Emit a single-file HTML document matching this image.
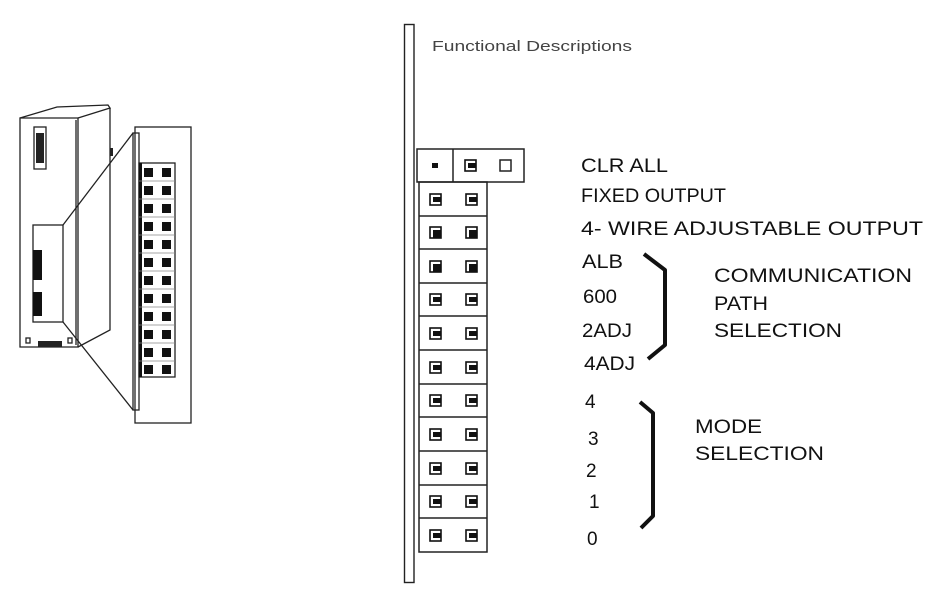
<!DOCTYPE html>
<html><head><meta charset="utf-8"><style>
html,body{margin:0;padding:0;background:#fff;width:936px;height:601px;overflow:hidden}
text{font-family:"Liberation Sans",sans-serif;fill:#111}
</style></head><body>
<svg width="936" height="601" viewBox="0 0 936 601" xmlns="http://www.w3.org/2000/svg">
<g fill="none" stroke="#222" stroke-width="1.3">
<polygon points="20,118 20,347 78,347 78,118"/>
<polyline points="20,118 57,107 108,105 110,108 78,118"/>
<polyline points="78,347 110,330 110,108"/>
<line x1="76" y1="120" x2="76" y2="345"/>
<rect x="34" y="127" width="12" height="42"/>
<rect x="33" y="225" width="30" height="97"/>
<line x1="63" y1="225" x2="133" y2="133"/>
<line x1="63" y1="322" x2="133" y2="410"/>
<rect x="26" y="338" width="4" height="5"/>
<rect x="68" y="338" width="4" height="5"/>
<rect x="135" y="127" width="56" height="296"/>
<rect x="133" y="133" width="6" height="277"/>
<rect x="139" y="163" width="36" height="214"/>
</g>
<rect x="36" y="133" width="8" height="30" fill="#222"/>
<rect x="33" y="250" width="9" height="30" fill="#111"/>
<rect x="33" y="292" width="9" height="24" fill="#111"/>
<rect x="38" y="341" width="24" height="6" fill="#222"/>
<rect x="110" y="148" width="3" height="8" fill="#222"/>
<rect x="139" y="163" width="3" height="214" fill="#111"/>
<g fill="#111">
<rect x="144" y="168" width="9" height="9"/><rect x="162" y="168" width="9" height="9"/>
<rect x="144" y="186" width="9" height="9"/><rect x="162" y="186" width="9" height="9"/>
<rect x="144" y="204" width="9" height="9"/><rect x="162" y="204" width="9" height="9"/>
<rect x="144" y="222" width="9" height="9"/><rect x="162" y="222" width="9" height="9"/>
<rect x="144" y="240" width="9" height="9"/><rect x="162" y="240" width="9" height="9"/>
<rect x="144" y="258" width="9" height="9"/><rect x="162" y="258" width="9" height="9"/>
<rect x="144" y="276" width="9" height="9"/><rect x="162" y="276" width="9" height="9"/>
<rect x="144" y="294" width="9" height="9"/><rect x="162" y="294" width="9" height="9"/>
<rect x="144" y="312" width="9" height="9"/><rect x="162" y="312" width="9" height="9"/>
<rect x="144" y="330" width="9" height="9"/><rect x="162" y="330" width="9" height="9"/>
<rect x="144" y="348" width="9" height="9"/><rect x="162" y="348" width="9" height="9"/>
<rect x="144" y="365" width="9" height="9"/><rect x="162" y="365" width="9" height="9"/>
</g>
<g stroke="#888" stroke-width="0.8">
<line x1="139" y1="181" x2="175" y2="181"/><line x1="139" y1="199" x2="175" y2="199"/>
<line x1="139" y1="217" x2="175" y2="217"/><line x1="139" y1="235" x2="175" y2="235"/>
<line x1="139" y1="253" x2="175" y2="253"/><line x1="139" y1="271" x2="175" y2="271"/>
<line x1="139" y1="289" x2="175" y2="289"/><line x1="139" y1="307" x2="175" y2="307"/>
<line x1="139" y1="325" x2="175" y2="325"/><line x1="139" y1="343" x2="175" y2="343"/>
<line x1="139" y1="361" x2="175" y2="361"/>
</g>

<rect x="404.5" y="24.5" width="9.5" height="558" fill="none" stroke="#222" stroke-width="1.4"/>
<text x="432" y="51" font-size="15" style="fill:#444" textLength="200" lengthAdjust="spacingAndGlyphs">Functional Descriptions</text>
<g fill="none" stroke="#222" stroke-width="1.5">
<rect x="417" y="149" width="107" height="33"/>
<line x1="453" y1="149" x2="453" y2="182"/>
<rect x="419" y="182" width="68" height="370"/>
</g>
<g stroke="#222" stroke-width="1.5">
<line x1="419" y1="216" x2="487" y2="216"/><line x1="419" y1="249" x2="487" y2="249"/>
<line x1="419" y1="283" x2="487" y2="283"/><line x1="419" y1="316" x2="487" y2="316"/>
<line x1="419" y1="350" x2="487" y2="350"/><line x1="419" y1="384" x2="487" y2="384"/>
<line x1="419" y1="417" x2="487" y2="417"/><line x1="419" y1="451" x2="487" y2="451"/>
<line x1="419" y1="485" x2="487" y2="485"/><line x1="419" y1="518" x2="487" y2="518"/>
</g>
<rect x="432" y="163" width="6" height="5" fill="#111"/>
<rect x="500" y="160" width="11" height="11" fill="none" stroke="#222" stroke-width="1.5"/>
<defs>
<g id="p"><rect x="0" y="0" width="11" height="11" fill="none" stroke="#111" stroke-width="1.6"/><rect x="3" y="3" width="8" height="5" fill="#111"/></g>
<g id="q"><rect x="0" y="0" width="11" height="11" fill="none" stroke="#111" stroke-width="1.6"/><rect x="3" y="3" width="8" height="8" fill="#111"/></g>
</defs>
<use href="#p" x="465" y="160"/>
<use href="#p" x="430" y="194"/><use href="#p" x="466" y="194"/>
<use href="#q" x="430" y="227"/><use href="#q" x="466" y="227"/>
<use href="#q" x="430" y="261"/><use href="#q" x="466" y="261"/>
<use href="#p" x="430" y="294"/><use href="#p" x="466" y="294"/>
<use href="#p" x="430" y="328"/><use href="#p" x="466" y="328"/>
<use href="#p" x="430" y="362"/><use href="#p" x="466" y="362"/>
<use href="#p" x="430" y="395"/><use href="#p" x="466" y="395"/>
<use href="#p" x="430" y="429"/><use href="#p" x="466" y="429"/>
<use href="#p" x="430" y="463"/><use href="#p" x="466" y="463"/>
<use href="#p" x="430" y="496"/><use href="#p" x="466" y="496"/>
<use href="#p" x="430" y="530"/><use href="#p" x="466" y="530"/>

<g font-size="19">
<text x="581" y="172" textLength="87" lengthAdjust="spacingAndGlyphs">CLR ALL</text>
<text x="581" y="202" textLength="145" lengthAdjust="spacingAndGlyphs">FIXED OUTPUT</text>
<text x="581" y="235" textLength="342" lengthAdjust="spacingAndGlyphs">4- WIRE ADJUSTABLE OUTPUT</text>
<text x="582" y="268" textLength="41" lengthAdjust="spacingAndGlyphs">ALB</text>
<text x="583" y="303" textLength="34" lengthAdjust="spacingAndGlyphs">600</text>
<text x="582" y="337" textLength="50" lengthAdjust="spacingAndGlyphs">2ADJ</text>
<text x="584" y="370" textLength="51" lengthAdjust="spacingAndGlyphs">4ADJ</text>
<text x="585" y="408">4</text>
<text x="588" y="445">3</text>
<text x="586" y="477">2</text>
<text x="589" y="508">1</text>
<text x="587" y="545">0</text>
<text x="714" y="282" textLength="198" lengthAdjust="spacingAndGlyphs">COMMUNICATION</text>
<text x="714" y="310" textLength="54" lengthAdjust="spacingAndGlyphs">PATH</text>
<text x="714" y="337" textLength="128" lengthAdjust="spacingAndGlyphs">SELECTION</text>
<text x="695" y="433" textLength="67" lengthAdjust="spacingAndGlyphs">MODE</text>
<text x="695" y="460" textLength="129" lengthAdjust="spacingAndGlyphs">SELECTION</text>
</g>
<g fill="none" stroke="#111" stroke-width="4" stroke-linejoin="round">
<polyline points="644,254 665,270 665,345 648,359"/>
<polyline points="640,402 653,413 653,516 641,528"/>
</g>
</svg>
</body></html>
